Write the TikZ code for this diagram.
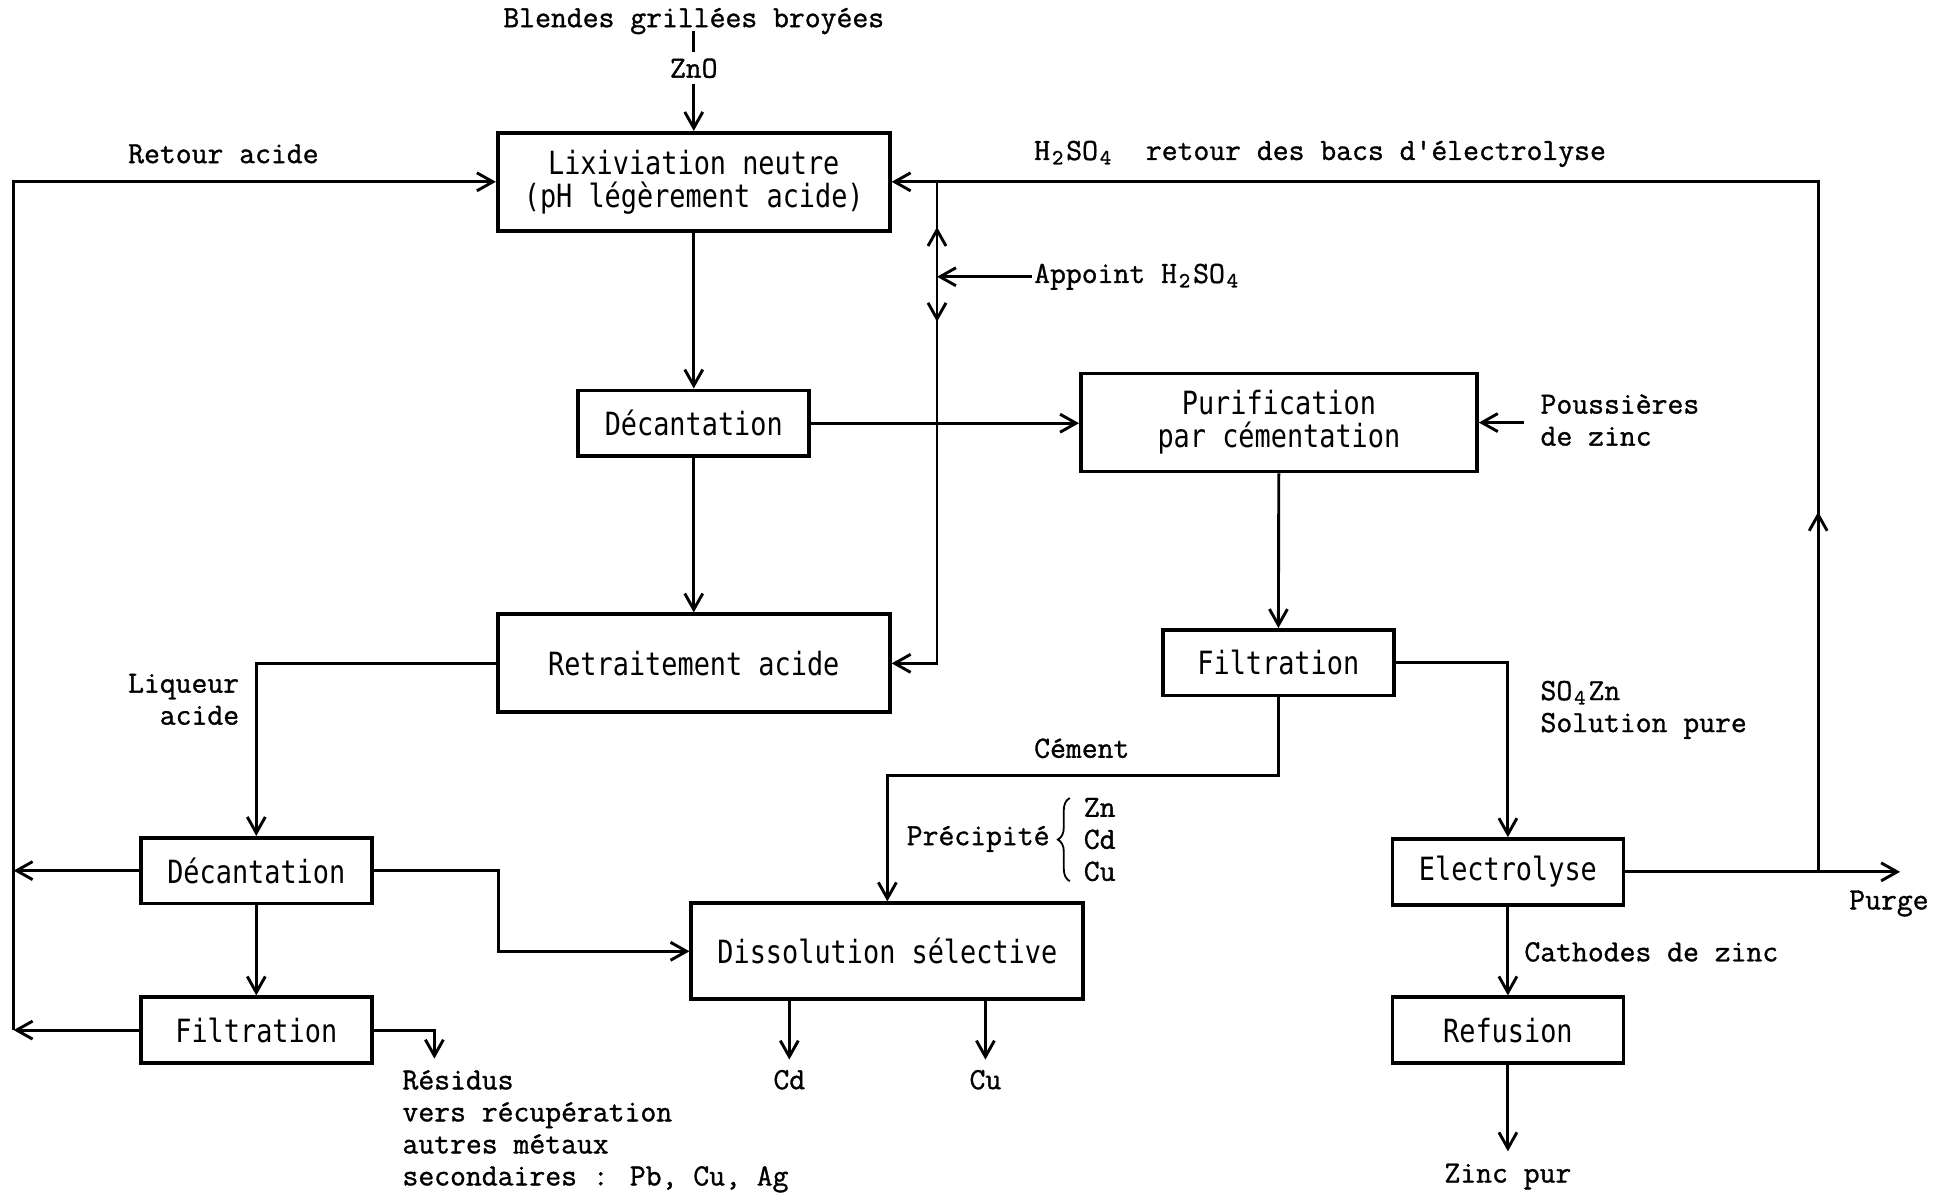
\documentclass[tikz,border=0pt]{standalone}
\usepackage{fontspec}
\setmainfont{Latin Modern Mono}
\newfontfamily\boxfont[FakeStretch=0.84]{DejaVu Sans Mono}
\newfontfamily\lblfont[FakeBold=1.1]{Latin Modern Mono}
\usetikzlibrary{arrows.meta,decorations.pathreplacing,decorations.markings}
% subscript that keeps the full typewriter pitch
\newcommand\tsub[1]{\makebox[0.525em][c]{\textsubscript{#1}}}

\begin{document}
\begin{tikzpicture}[x=0.6205pt,y=-0.6205pt,
  box/.style={draw,line width=1.9pt,inner sep=0pt,align=center,
    font=\boxfont\fontsize{16}{16.5}\selectfont},
  bigbox/.style={box,minimum width=196pt,minimum height=49pt},
  smallbox/.style={box,minimum width=115.5pt,minimum height=32.8pt},
  lbl/.style={inner sep=0pt,font=\lblfont\fontsize{15.4}{16}\selectfont},
  flow/.style={line width=1.45pt},
  tip/.tip={Straight Barb[length=8pt,width=9pt]},
  arr/.style={flow,-tip},
  midup/.style={postaction={decorate,decoration={markings,
    mark=at position #1 with {\arrowreversed{tip}}}}},
  middown/.style={postaction={decorate,decoration={markings,
    mark=at position #1 with {\arrow{tip}}}}},
  bracestyle/.style={line width=0.9pt,decorate,decoration={brace,amplitude=6pt}}]
\useasboundingbox (0,0) rectangle (1568,961);

% process boxes
\node[bigbox] (lix) at (559,146.5) {Lixiviation neutre\\(pH légèrement acide)};
\node[smallbox] (dec1) at (559,341) {Décantation};
\node[bigbox] (retr) at (559,534.5) {Retraitement acide};
\node[bigbox,minimum width=198pt] (purif) at (1030.5,340.5) {Purification\\par cémentation};
\node[smallbox] (filt2) at (1030,534) {Filtration};
\node[smallbox] (dec2) at (206.5,701.5) {Décantation};
\node[smallbox] (filt1) at (206.5,830) {Filtration};
\node[bigbox,minimum height=48pt] (diss) at (715,766.5) {Dissolution sélective};
\node[smallbox] (elec) at (1215,702.5) {Electrolyse};
\node[smallbox] (ref) at (1215,830) {Refusion};

% labels
\node[lbl] (blendes) at (559,17) {Blendes grillées broyées};
\node[lbl] (zno) at (559,55) {ZnO};
\node[lbl] (retour) at (180,124) {Retour acide};
\node[lbl,anchor=west] (h2so4) at (833,124) {H\tsub{2}SO\tsub{4}\ \ retour des bacs d'électrolyse};
\node[lbl,anchor=west] (appoint) at (833,223) {Appoint H\tsub{2}SO\tsub{4}};
\node[lbl,anchor=west,align=left] (pous) at (1241,338.5) {Poussières\\de zinc};
\node[lbl,anchor=east,align=right] (liq) at (193,563.5) {Liqueur\\acide};
\node[lbl,anchor=west,align=left] (so4) at (1241,572) {SO\tsub{4}Zn\\Solution pure};
\node[lbl,anchor=west] (cement) at (833,603) {Cément};
\node[lbl,anchor=east] (prec) at (846,676) {Précipité};
\node[lbl,anchor=west,align=left] (zcc) at (873,676.5) {Zn\\Cd\\Cu};
\node[lbl] (cd) at (636,870) {Cd};
\node[lbl] (cu) at (794,870) {Cu};
\node[lbl,anchor=north west,align=left] (res) at (324,862) {Résidus\\vers récupération\\autres métaux\\secondaires : Pb, Cu, Ag};
\node[lbl,anchor=west] (cath) at (1228,767) {Cathodes de zinc};
\node[lbl] (purge) at (1522,728) {Purge};
\node[lbl] (zinc) at (1215,948) {Zinc pur};

% bend points
\coordinate (ltop) at (11,146.5);
\coordinate (lbot) at (11,830);
\coordinate (rtop) at (1465,146.5);
\coordinate (rbot) at (1465,702.5);
\coordinate (pend) at (1531,702.5);
\coordinate (vj) at (755,146.5);
\coordinate (cemk) at (0,625);
\coordinate (dbend) at (402,0);
\coordinate (rtip) at (350,853);

% feed
\draw[flow,shorten <=-2pt,shorten >=3pt] (blendes) -- (zno);
\draw[arr,shorten <=3pt] (zno) -- (lix);

% acid return on the left
\draw[arr] (lbot) -- (ltop) -- (lix.west);
\draw[arr] (dec2.west) -- (dec2.west -| ltop);
\draw[arr] (filt1.west) -- (filt1.west -| ltop);

% electrolyte return on the right
\draw[arr] (elec.east) -- (pend);
\draw[arr,middown=180pt] (rbot) -- (rtop) -- (lix.east);

% acid make-up branch
\draw[arr,midup=22.6pt,middown=70pt] (vj) |- (retr.east);
\draw[arr,shorten <=1pt] (appoint.west) -- (appoint.west -| vj);

% main line
\draw[arr] (lix) -- (dec1);
\draw[arr] (dec1.east) -- (dec1.east -| purif.west);
\draw[arr] (dec1) -- (retr);
\draw[arr,shorten <=8pt] (purif.east -| pous.west) -- (purif.east);
\draw[arr] (purif) -- (filt2);
\draw[arr] (filt2.east) -| (elec.north);
\draw[arr] (filt2.south) -- (filt2.south |- cemk) -| (diss.north);
\draw[bracestyle] (862,710) -- (862,643);
\draw[arr,shorten >=5pt] (diss.south -| cd) -- (cd.north);
\draw[arr,shorten >=5pt] (diss.south -| cu) -- (cu.north);

% acid re-treatment line
\draw[arr] (retr.west) -| (dec2.north);
\draw[arr] (dec2.east) -- (dec2.east -| dbend) |- (diss.west);
\draw[arr] (dec2) -- (filt1);
\draw[arr] (filt1.east) -| (rtip);

% zinc line
\draw[arr] (elec) -- (ref);
\draw[arr,shorten >=6pt] (ref) -- (zinc);
\end{tikzpicture}
\end{document}
